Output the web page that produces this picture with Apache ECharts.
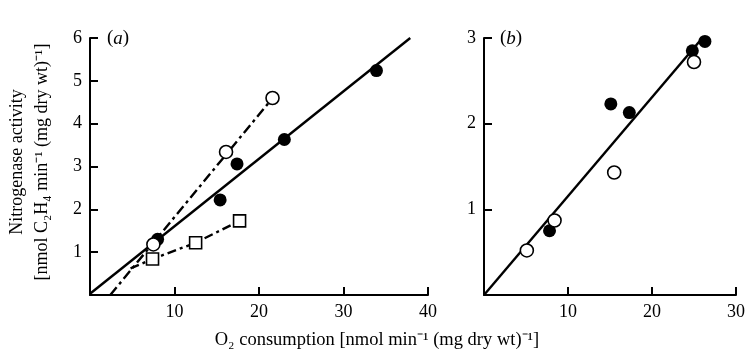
<!DOCTYPE html>
<html>
<head>
<meta charset="utf-8">
<script src="https://cdn.jsdelivr.net/npm/echarts@6/dist/echarts.min.js"></script>
<style>
  html, body { margin: 0; padding: 0; background: #fff; }
  #container { width: 748px; height: 351px; }
</style>
</head>
<body>
<div id="container"></div>
<script>
// panel (a) points, [O2 consumption, nitrogenase activity]
var aFilled = [[8, 1.3], [15.4, 2.22], [17.4, 3.06], [23, 3.63], [33.9, 5.24]];
var aOpen = [[7.5, 1.18], [16.1, 3.34], [21.6, 4.6]];
var aSquare = [[7.4, 0.84], [12.5, 1.22], [17.7, 1.73]];
// fitted lines in (a)
var aFilledFit = [[0, 0.03], [37.9, 6.0]];
var aOpenFit = [[2.4, 0], [21.2, 4.5]];
var aSquareFit = [[4.8, 0.62], [7.4, 0.84], [12.5, 1.22], [17.7, 1.73]];

// panel (b)
var bFilled = [[7.8, 0.75], [15.1, 2.23], [17.3, 2.13], [24.8, 2.85], [26.3, 2.96]];
var bOpen = [[5.1, 0.52], [8.4, 0.87], [15.5, 1.43], [25, 2.72]];
var bFit = [[0, 0], [26.6, 3.07]];

var serif = 'Liberation Serif';
var ink = '#000';

function hideZero(v) { return v === 0 ? '' : v; }

function axisBase(extra) {
  var ax = {
    type: 'value',
    axisLine: {show: true, lineStyle: {color: ink, width: 2}},
    axisTick: {show: true, inside: true, length: 8, lineStyle: {color: ink, width: 2}},
    axisLabel: {color: ink, fontFamily: serif, fontSize: 18, margin: 8, formatter: hideZero},
    splitLine: {show: false}
  };
  for (var k in extra) ax[k] = extra[k];
  return ax;
}

var filledStyle = {color: ink, opacity: 1};
var openStyle = {color: '#fff', borderColor: ink, borderWidth: 1.6, opacity: 1};

function fitLine(xi, data, dash) {
  return {
    type: 'line', xAxisIndex: xi, yAxisIndex: xi, data: data, symbol: 'none', z: 2,
    lineStyle: {color: ink, width: 2.4, type: dash || 'solid'}
  };
}

function points(xi, data, shape, size, style) {
  return {
    type: 'scatter', xAxisIndex: xi, yAxisIndex: xi, data: data, z: 5,
    symbol: shape, symbolSize: size, itemStyle: style
  };
}

var dom = document.getElementById('container');
var myChart = echarts.init(dom);

var option = {
  animation: false,
  backgroundColor: '#fff',
  grid: [
    {left: 90, top: 38, width: 338, height: 257},
    {left: 484, top: 38, width: 253, height: 257}
  ],
  xAxis: [
    axisBase({gridIndex: 0, min: 0, max: 40, interval: 10}),
    axisBase({gridIndex: 1, min: 0, max: 30, interval: 10})
  ],
  yAxis: [
    axisBase({gridIndex: 0, min: 0, max: 6, interval: 1}),
    axisBase({gridIndex: 1, min: 0, max: 3, interval: 1})
  ],
  graphic: [
    {
      type: 'text', left: 107, top: 29,
      style: {
        text: '({i|a})', fill: ink, font: '19px ' + serif,
        rich: {i: {fontStyle: 'italic', fontFamily: serif, fontSize: 19, fill: ink}}
      }
    },
    {
      type: 'text', left: 500, top: 29,
      style: {
        text: '({i|b})', fill: ink, font: '19px ' + serif,
        rich: {i: {fontStyle: 'italic', fontFamily: serif, fontSize: 19, fill: ink}}
      }
    },
    {
      type: 'text', x: 377, y: 340,
      style: {
        text: 'O\u2082 consumption [nmol min\u207B\u00B9 (mg dry wt)\u207B\u00B9]',
        fill: ink, font: '18.5px ' + serif, textAlign: 'center', textVerticalAlign: 'middle'
      }
    },
    {
      type: 'text', x: 30, y: 162, rotation: Math.PI / 2,
      style: {
        text: 'Nitrogenase activity\n[nmol C\u2082H\u2084 min\u207B\u00B9 (mg dry wt)\u207B\u00B9]',
        fill: ink, font: '18px ' + serif, lineHeight: 25,
        textAlign: 'center', textVerticalAlign: 'middle'
      }
    }
  ],
  series: [
    fitLine(0, aFilledFit),
    fitLine(0, aOpenFit, [10, 4, 3, 4]),
    fitLine(0, aSquareFit, [9, 4, 3, 4]),
    points(0, aFilled, 'circle', 13, filledStyle),
    points(0, aOpen, 'circle', 13, openStyle),
    points(0, aSquare, 'rect', 12, openStyle),
    fitLine(1, bFit),
    points(1, bFilled, 'circle', 13, filledStyle),
    points(1, bOpen, 'circle', 13, openStyle)
  ]
};

myChart.setOption(option);
</script>
</body>
</html>
